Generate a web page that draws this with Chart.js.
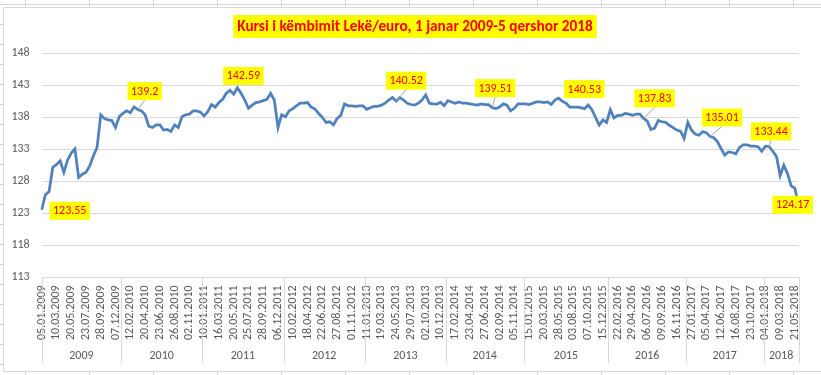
<!DOCTYPE html>
<html>
<head>
<meta charset="utf-8">
<script src="https://cdn.jsdelivr.net/npm/chart.js@4.4.0/dist/chart.umd.min.js"></script>
<style>
  html, body { margin: 0; padding: 0; }
  body {
    width: 821px; height: 375px; overflow: hidden; position: relative; background: #fff;
    background-image: linear-gradient(to bottom, #d4d4d4 1px, transparent 1px),
                      linear-gradient(to right, #d4d4d4 1px, transparent 1px);
    background-size: 100% 20px, 64px 100%;
    background-position: 0 4px, 25px 0;
  }
  #box { position: absolute; left: 3px; top: 7px; width: 830px; height: 363px; border: 1px solid #d9d9d9; background: #fff; }
  #box canvas { position: absolute; left: 0; top: 0; }
</style>
</head>
<body>
<div id="box"><canvas id="rateChart" width="817" height="363"></canvas></div>
<script>
const chartTitle = 'Kursi i këmbimit Lekë/euro, 1 janar 2009-5 qershor 2018';

// dates shown under the axis, one every 4 points
const tickDates = [
  '05.01.2009', '10.03.2009', '20.05.2009', '23.07.2009', '28.09.2009', '07.12.2009',
  '12.02.2010', '20.04.2010', '23.06.2010', '26.08.2010', '02.11.2010',
  '10.01.2011', '16.03.2011', '20.05.2011', '25.07.2011', '28.09.2011', '06.12.2011',
  '10.02.2012', '18.04.2012', '22.06.2012', '27.08.2012', '01.11.2012',
  '11.01.2013', '19.03.2013', '24.05.2013', '29.07.2013', '02.10.2013', '10.12.2013',
  '17.02.2014', '23.04.2014', '27.06.2014', '02.09.2014', '05.11.2014',
  '15.01.2015', '20.03.2015', '28.05.2015', '03.08.2015', '07.10.2015', '15.12.2015',
  '22.02.2016', '29.04.2016', '06.07.2016', '09.09.2016', '16.11.2016',
  '27.01.2017', '05.04.2017', '12.06.2017', '16.08.2017', '23.10.2017',
  '04.01.2018', '09.03.2018', '21.05.2018'
];

const years = ['2009', '2010', '2011', '2012', '2013', '2014', '2015', '2016', '2017', '2018'];
// index of the first point of each year
const yearStart = [0, 22, 44, 66, 88, 110, 131, 154, 175, 196];

// lek per euro
const rate = [
  123.55, 125.9, 126.4, 130.2, 130.6, 131.2, 129.4, 131.3, 132.4, 133.05,
  128.6, 129.1, 129.4, 130.4, 132.0, 133.3, 138.4, 137.8, 137.6, 137.5,
  136.4, 138.1, 138.6, 139.0, 138.7, 139.6, 139.2, 139.0, 138.4, 136.6,
  136.4, 136.8, 136.8, 136.0, 136.1, 135.8, 136.8, 136.4, 138.1, 138.4,
  138.5, 139.0, 139.0, 138.8, 138.2, 138.9, 140.0, 139.6, 140.3, 140.8,
  141.75, 142.2, 141.6, 142.59, 141.75, 140.7, 139.4, 139.9, 140.3, 140.4,
  140.6, 140.8, 141.75, 140.7, 136.4, 138.4, 138.1, 139.0, 139.35, 139.8,
  140.2, 140.2, 140.3, 139.6, 139.3, 138.6, 138.0, 137.2, 137.3, 136.8,
  137.8, 138.3, 140.1, 139.8, 139.8, 139.7, 139.8, 139.8, 139.25, 139.5,
  139.7, 139.7, 139.9, 140.2, 140.7, 141.1, 140.52, 141.1, 140.7, 140.2,
  140.0, 139.9, 140.2, 140.7, 141.5, 140.2, 140.1, 140.05, 140.35, 139.8,
  140.6, 140.4, 140.2, 140.4, 140.2, 140.2, 140.1, 140.0, 139.9, 140.1,
  140.0, 140.0, 139.51, 139.35, 139.6, 140.1, 139.9, 139.0, 139.4, 140.1,
  140.1, 140.1, 140.0, 140.2, 140.4, 140.4, 140.3, 140.4, 140.0, 140.7,
  141.0, 140.53, 140.2, 139.6, 139.6, 139.6, 139.5, 139.35, 139.9, 139.2,
  138.0, 136.8, 137.6, 137.2, 139.2, 137.9, 138.3, 138.3, 138.6, 138.5,
  138.3, 138.5, 138.5, 137.83, 137.4, 136.1, 136.3, 137.5, 137.3, 137.2,
  136.75, 136.4, 136.0, 135.85, 134.7, 137.2, 136.0, 135.4, 135.2, 135.75,
  135.6, 135.01, 134.8, 134.2, 133.1, 132.1, 132.6, 132.5, 132.3, 133.3,
  133.7, 133.7, 133.5, 133.5, 133.4, 132.7, 133.5, 133.44, 132.7, 131.9,
  128.9, 130.5, 129.2, 127.3, 126.9, 124.17
];

// points that carry a value label
const labelAt = [0, 26, 53, 96, 122, 141, 163, 181, 197, 205];

const labels = rate.map((v, i) => (i % 4 === 0 ? tickDates[i / 4] : ''));

const FONT = 'Carlito, Lato, sans-serif';

// label box centre relative to its point
const labelOffsets = [[28, 1], [7, -18.5], [6, -12], [10, -20.5], [3, -19.5], [22, -12], [11, -20], [12, -19], [2, -15], [-6, -1]];

const excelBits = {
  id: 'excelBits',
  afterDatasetsDraw(chart) {
    const ctx = chart.ctx;
    const x = chart.scales.x;
    const area = chart.chartArea;
    ctx.save();

    // title
    ctx.font = 'bold 15.3px ' + FONT;
    const tw = ctx.measureText(chartTitle).width;
    ctx.fillStyle = '#ffff00';
    ctx.fillRect(411 - tw / 2 - 4, 7, tw + 8, 23);
    ctx.fillStyle = '#ff0000';
    ctx.textAlign = 'center';
    ctx.textBaseline = 'middle';
    ctx.fillText(chartTitle, 411, 19);

    // year groups under the dates
    const bounds = yearStart.map((s) => (s === 0 ? 0 : s - 0.5)).concat([rate.length - 1]);
    ctx.strokeStyle = '#d9d9d9';
    ctx.lineWidth = 1;
    bounds.forEach((b) => {
      const px = Math.round(x.getPixelForValue(b)) + 0.5;
      ctx.beginPath();
      ctx.moveTo(px, area.bottom);
      ctx.lineTo(px, 355);
      ctx.stroke();
    });
    ctx.font = '12px ' + FONT;
    ctx.fillStyle = '#595959';
    years.forEach((y, i) => {
      const mid = (x.getPixelForValue(bounds[i]) + x.getPixelForValue(bounds[i + 1])) / 2;
      ctx.fillText(y, mid, 348);
    });

    // value labels
    const pts = chart.getDatasetMeta(0).data;
    ctx.font = '12px ' + FONT;
    labelAt.forEach((idx, k) => {
      const p = pts[idx];
      const [dx, dy] = labelOffsets[k];
      const cx = p.x + dx, cy = p.y + dy;
      const txt = String(rate[idx]);
      const w = ctx.measureText(txt).width + 7, h = 18;
      if (Math.abs(dy) >= 15) {
        ctx.strokeStyle = '#a6a6a6';
        ctx.beginPath();
        ctx.moveTo(cx, cy + h / 2);
        ctx.lineTo(p.x, p.y);
        ctx.stroke();
      }
      ctx.fillStyle = '#ffff00';
      ctx.fillRect(cx - w / 2, cy - h / 2, w, h);
      ctx.fillStyle = '#ff0000';
      ctx.fillText(txt, cx, cy + 0.5);
    });
    ctx.restore();
  }
};

new Chart(document.getElementById('rateChart'), {
  type: 'line',
  data: {
    labels: labels,
    datasets: [{
      data: rate,
      borderColor: '#4f81bd',
      borderWidth: 2.75,
      pointRadius: 0,
      tension: 0,
      fill: false
    }]
  },
  options: {
    responsive: false,
    animation: false,
    layout: { padding: { top: 45.3, right: 10, left: 0, bottom: 0 } },
    plugins: { legend: { display: false }, tooltip: { enabled: false } },
    scales: {
      x: {
        type: 'category',
        offset: false,
        grid: { display: false, drawTicks: false },
        border: { display: false },
        ticks: {
          autoSkip: false, minRotation: 90, maxRotation: 90, padding: 8,
          color: '#595959', font: { family: FONT, size: 12 }
        },
        afterFit: (s) => { s.height = 93.7; }
      },
      y: {
        min: 113, max: 148,
        grid: { color: '#d9d9d9', drawTicks: false },
        border: { display: false },
        ticks: { stepSize: 5, padding: 12, color: '#595959', font: { family: FONT, size: 12 } },
        afterFit: (s) => { s.width = 37.7; }
      }
    }
  },
  plugins: [excelBits]
});
</script>
</body>
</html>
